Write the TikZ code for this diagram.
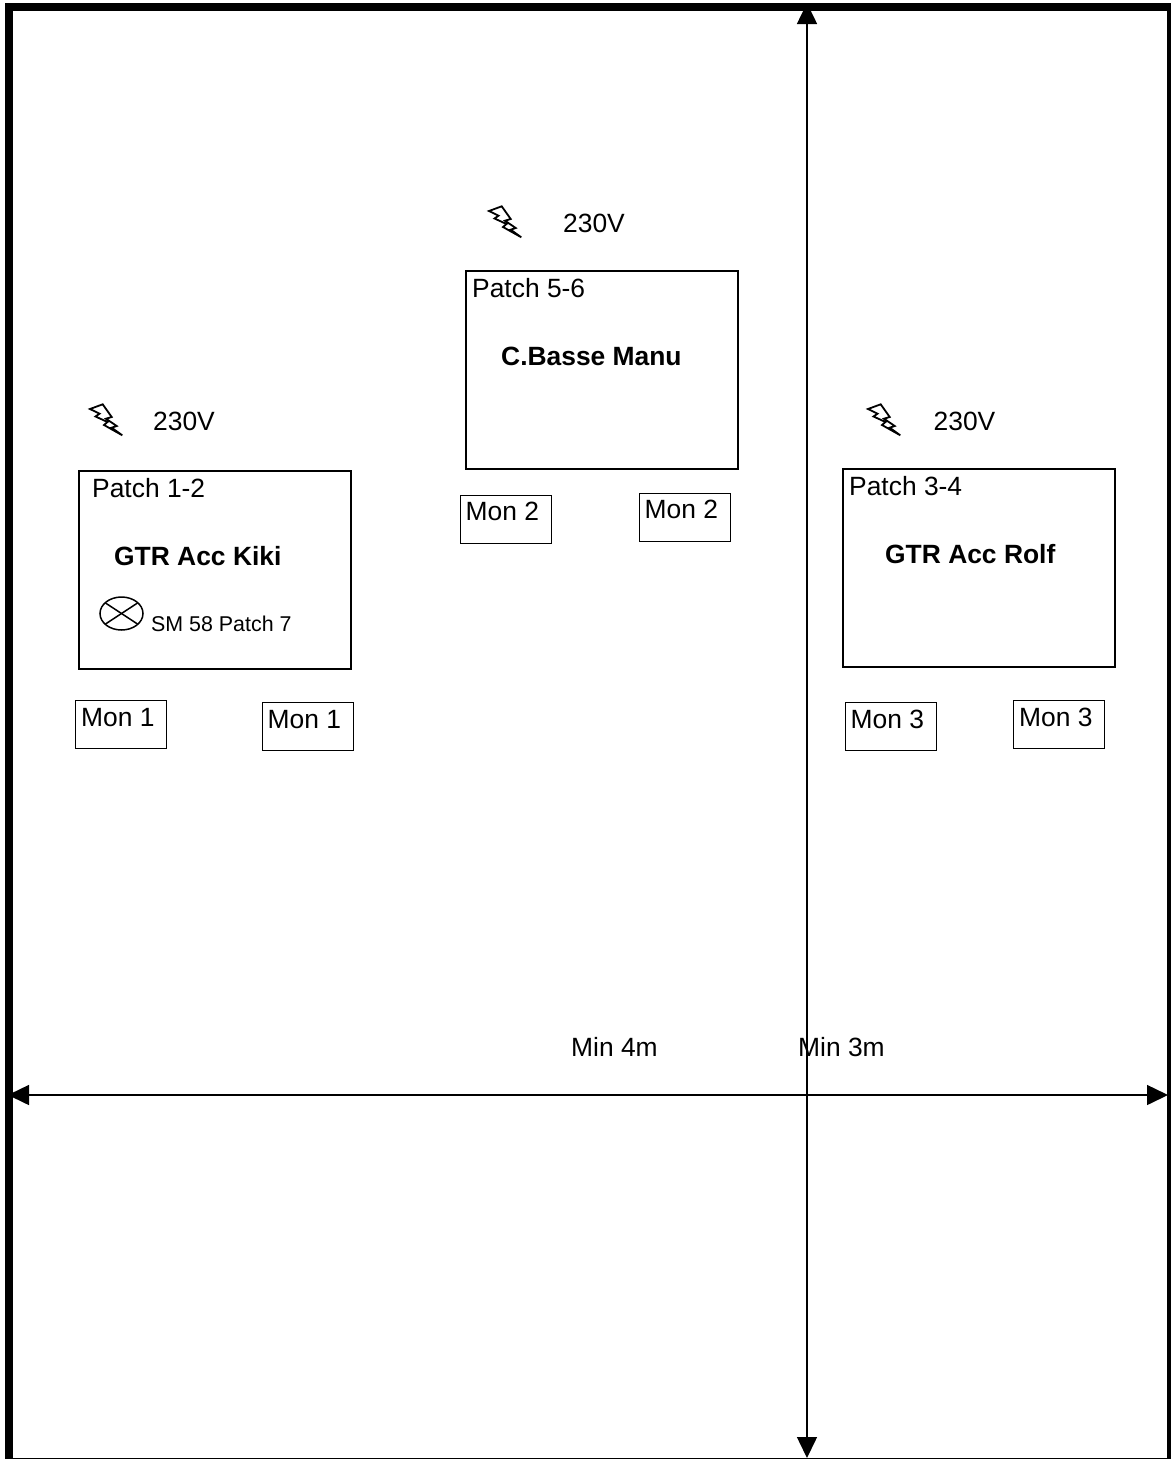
\documentclass[tikz,border=0pt]{standalone}
\usepackage{fontspec}
\setmainfont{Liberation Sans}
\usetikzlibrary{arrows.meta}
\tikzset{
	wall/.style={line width=#1,line cap=butt},
	dim/.style={line width=1.5pt,{Triangle[length=21pt,width=20pt]}-{Triangle[length=21pt,width=20pt]}},
	stagebox/.style={draw,line width=2pt,anchor=north west,minimum width=272pt,minimum height=198pt,inner sep=0pt},
	monbox/.style={draw,line width=1.8pt,anchor=north west,minimum width=91pt,minimum height=48pt,inner sep=0pt},
	lbl/.style={anchor=base west,inner sep=0pt,font=\fontsize{26.4}{30}\selectfont},
	lblbold/.style={anchor=base west,inner sep=0pt,font=\fontsize{26.4}{30}\selectfont\bfseries},
	lblsmall/.style={anchor=base west,inner sep=0pt,font=\fontsize{21.4}{25}\selectfont},
	bolt/.style={draw,line width=1.8pt,fill=white,line join=miter}
}
\begin{document}
\begin{tikzpicture}[x=1pt,y=-1pt]
	   \useasboundingbox (0,0) rectangle (1171,1459);
	   \coordinate (top) at (807,3);
	   \coordinate (bottom) at (807,1458);
	   \coordinate (left) at (8,1095);
	   \coordinate (right) at (1168,1095);
	   \draw[dim] (top) -- (bottom);
	   \draw[dim] (left) -- (right);
	   \draw[wall=8pt] (9,3) -- (9,1459);
	   \draw[wall=8pt] (5,7) -- (1171,7);
	   \draw[wall=4pt] (1169,3) -- (1169,1459);
	   \draw[wall=1.5pt] (5,1458.4) -- (1171,1458.4);
	   \node [stagebox] (kiki) at (78,470) {};
	   \node [stagebox] (manu) at (465,270) {};
	   \node [stagebox] (rolf) at (842,468) {};
	   \node [monbox] (mon1a) at (74.5,699.5) {};
	   \node [monbox] (mon1b) at (261.5,701.5) {};
	   \node [monbox] (mon2a) at (459.5,494.5) {};
	   \node [monbox] (mon2b) at (638.5,492.5) {};
	   \node [monbox] (mon3a) at (844.5,701.5) {};
	   \node [monbox] (mon3b) at (1012.5,699.5) {};
	   \node [lbl] (patchkiki) at (92,497) {Patch 1-2};
	   \node [lbl] (patchmanu) at (472,297) {Patch 5-6};
	   \node [lbl] (patchrolf) at (849,495) {Patch 3-4};
	   \node [lblbold] (namekiki) at (114,565) {GTR Acc Kiki};
	   \node [lblbold] (namemanu) at (501,365) {C.Basse Manu};
	   \node [lblbold] (namerolf) at (885,563) {GTR Acc Rolf};
	   \node [lblsmall] (micname) at (151,631) {SM 58 Patch 7};
	   \node [lbl] (monla) at (81,726) {Mon 1};
	   \node [lbl] (monlb) at (267.5,728) {Mon 1};
	   \node [lbl] (monma) at (465.5,520) {Mon 2};
	   \node [lbl] (monmb) at (644.5,518) {Mon 2};
	   \node [lbl] (monra) at (850.5,728) {Mon 3};
	   \node [lbl] (monrb) at (1019,726) {Mon 3};
	   \node [lbl] (voltkiki) at (153,430) {230V};
	   \node [lbl] (voltmanu) at (563,232) {230V};
	   \node [lbl] (voltrolf) at (933.5,430) {230V};
	   \node [lbl] (min4) at (571,1056) {Min 4m};
	   \node [lbl] (min3) at (798,1056) {Min 3m};
	   % mic
	   \draw[line width=1.5pt] (121.5,613.5) ellipse (21.5 and 16.5);
	   \draw[line width=1.5pt] (105.5,603) -- (137.5,624);
	   \draw[line width=1.5pt] (105.5,624) -- (137.5,603);
	   % power
	   \foreach \x/\y in {90/405,489/207,868/405} {
	   \draw[bolt,shift={(\x,\y)}] (0,4) -- (12.7,-0.7) -- (21.7,12) -- (16,13.7) -- (26.7,21) -- (21.7,22.7) -- (32.3,30.3) -- (14,20) -- (17.5,17) -- (5.5,11.5) -- (9.5,8.7) -- cycle;
	   }
\end{tikzpicture}
\end{document}
